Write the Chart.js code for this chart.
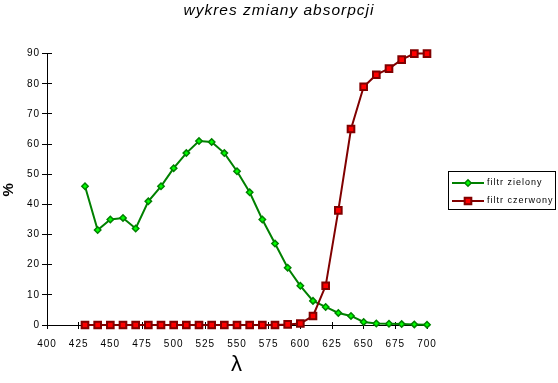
<!DOCTYPE html>
<html><head><meta charset="utf-8">
<script src="https://cdn.jsdelivr.net/npm/chart.js@4/dist/chart.umd.min.js"></script>
<style>html,body{margin:0;padding:0;background:#fff;overflow:hidden}</style>
</head><body>
<canvas id="c" width="558" height="383" style="display:block;width:558px;height:383px"></canvas>
<script>
// ---- data ----
const chartTitle = 'wykres zmiany absorpcji';
const xAxisTitle = 'λ';
const yAxisTitle = '%';
const wavelengths = [430,440,450,460,470,480,490,500,510,520,530,540,550,560,570,580,590,600,610,620,630,640,650,660,670,680,690,700];
const greenFilter = [46,31.5,35,35.5,32,41,46,52,57,61,60.7,57,51,44,35,27,19,13,8,6,4,3,1,0.5,0.4,0.3,0.2,0.1];
const redFilter   = [0,0,0,0,0,0,0,0,0,0,0,0,0,0,0,0,0.2,0.5,3,13,38,65,79,83,85,88,90,90];
const seriesNames = ['filtr zielony','filtr czerwony'];
const xTickValues = [400,425,450,475,500,525,550,575,600,625,650,675,700];
const yTickValues = [0,10,20,30,40,50,60,70,80,90];

const FONT = "'Liberation Sans', Arial, sans-serif";

const spacing = { id:'spacing', beforeDraw(chart){ try{ chart.ctx.letterSpacing='1px'; }catch(e){} } };

const innerTicks = { id:'innerTicks', beforeDatasetsDraw(chart){
  const {ctx, chartArea:a, scales:{x,y}} = chart;
  ctx.save(); ctx.strokeStyle='#000'; ctx.lineWidth=1; ctx.beginPath();
  x.ticks.forEach(t=>{ const px=Math.round(x.getPixelForValue(t.value)-0.5)+0.5; ctx.moveTo(px,a.bottom); ctx.lineTo(px,a.bottom-3); });
  y.ticks.forEach(t=>{ const py=Math.round(y.getPixelForValue(t.value)-0.5)+0.5; ctx.moveTo(a.left,py); ctx.lineTo(a.left+5,py); });
  ctx.stroke(); ctx.restore();
}};

const boxLegend = { id:'boxLegend', afterDraw(chart){
  const ctx = chart.ctx;
  ctx.save();
  ctx.strokeStyle='#000'; ctx.lineWidth=1;
  ctx.strokeRect(448.5,171.5,107,38);
  chart.data.datasets.forEach((ds,i)=>{
    const yy = 183 + i*18;
    ctx.strokeStyle = ds.borderColor; ctx.lineWidth = ds.borderWidth;
    ctx.beginPath(); ctx.moveTo(452,yy); ctx.lineTo(484,yy); ctx.stroke();
    ctx.fillStyle = ds.pointBackgroundColor; ctx.strokeStyle = ds.pointBorderColor; ctx.lineWidth = ds.pointBorderWidth;
    Chart.helpers.drawPoint(ctx,{pointStyle:ds.pointStyle, radius:ds.pointRadius, borderWidth:ds.pointBorderWidth, rotation:0},468,yy);
    ctx.fillStyle='#000'; ctx.font = "9px " + FONT; ctx.textBaseline='middle'; ctx.textAlign='left';
    ctx.fillText(ds.label, 487, yy);
  });
  ctx.restore();
}};

new Chart(document.getElementById('c'), {
  type:'line',
  data:{ datasets:[
    { label:seriesNames[0], data:wavelengths.map((w,i)=>({x:w,y:greenFilter[i]})),
      borderColor:'#008000', borderWidth:2, pointStyle:'rectRot', pointRadius:3.2,
      pointBackgroundColor:'#00ff00', pointBorderColor:'#008000', pointBorderWidth:1.5,
      tension:0, clip:false, order:1 },
    { label:seriesNames[1], data:wavelengths.map((w,i)=>({x:w,y:redFilter[i]})),
      borderColor:'#800000', borderWidth:2, pointStyle:'rect', pointRadius:4.7,
      pointBackgroundColor:'#ff0000', pointBorderColor:'#800000', pointBorderWidth:2,
      tension:0, clip:false, order:0 }
  ]},
  options:{
    responsive:false, animation:false, devicePixelRatio:1,
    layout:{ padding:0 },
    plugins:{
      legend:{ display:false }, tooltip:{ enabled:false },
      title:{ display:true, text:chartTitle, color:'#000',
        font:{ family:FONT, size:15.5, style:'italic', weight:'normal', lineHeight:1.2 },
        padding:{ top:1.5, bottom:33.5 } }
    },
    scales:{
      x:{ type:'linear', min:400, max:700,
        afterFit:s=>{ s.height=58; },
        afterBuildTicks:s=>{ s.ticks = xTickValues.map(v=>({value:v})); },
        grid:{ display:true, drawOnChartArea:false, drawTicks:true, tickLength:4, color:'#000' },
        border:{ display:true, color:'#000', width:1 },
        ticks:{ color:'#000', padding:9.5, maxRotation:0, autoSkip:false, font:{ family:FONT, size:10 } },
        title:{ display:true, text:xAxisTitle, color:'#000', font:{ family:FONT, size:22, lineHeight:1.2 }, padding:{ top:0, bottom:4.4 } } },
      y:{ type:'linear', min:0, max:90,
        afterFit:s=>{ s.width=47; },
        afterBuildTicks:s=>{ s.ticks = yTickValues.map(v=>({value:v})); },
        grid:{ display:true, drawOnChartArea:false, drawTicks:true, tickLength:5, color:'#000' },
        border:{ display:true, color:'#000', width:1 },
        ticks:{ color:'#000', padding:2, autoSkip:false, font:{ family:FONT, size:10 } },
        title:{ display:true, text:yAxisTitle, color:'#000', font:{ family:FONT, size:15, weight:'bold', lineHeight:1.2 }, padding:{ top:0, bottom:0 } } },
      legendSpace:{ type:'linear', position:'right', display:true,
        afterFit:s=>{ s.width=131; },
        grid:{ display:false }, border:{ display:false }, ticks:{ display:false } }
    }
  },
  plugins:[spacing, innerTicks, boxLegend]
});
</script>
</body></html>
